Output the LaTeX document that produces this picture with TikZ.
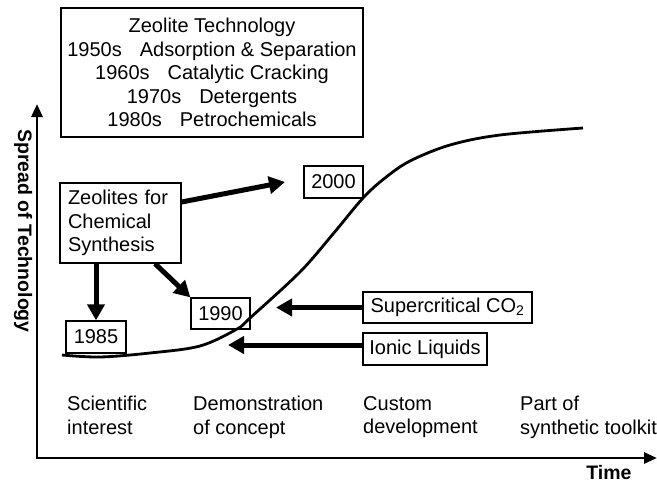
\documentclass[tikz,border=0pt]{standalone}
\usepackage{fontspec}
\setmainfont{Liberation Sans}
\usetikzlibrary{arrows.meta}
\begin{document}
\begin{tikzpicture}[x=1pt,y=-1pt,
  every node/.style={font=\fontsize{20}{23.5}\selectfont},
  box/.style={draw,line width=1.3pt,inner sep=0pt,align=center},
  bigarrow/.style={line width=5pt,-{Triangle[width=17pt,length=16pt]}},
  axisline/.style={line width=2.8pt,{Triangle[width=11pt,length=13pt]}-{Triangle[width=11pt,length=13pt]}},
  stagelabel/.style={anchor=north west,inner sep=0pt,align=left},
  boldlabel/.style={font=\fontsize{19.5}{23.5}\selectfont\bfseries,inner sep=0pt},
  curve/.style={line width=2.8pt}]
\useasboundingbox (0,0) rectangle (657,485);

% axes
\coordinate (ytip) at (37,104);
\coordinate (O) at (37,458);
\coordinate (xtip) at (657,458);
\draw[axisline,line join=miter] (ytip) -- (O) -- (xtip);
\node[boldlabel,rotate=-90] (spread) at (23,231) {Spread of Technology};
\node[boldlabel] (time) at (609,473) {Time};

% S-curve
\draw[curve] plot[smooth,tension=0.55] coordinates {(62,355) (100,357) (150,353) (200,346) (237,329) (250,318) (300,272) (333,234) (363,198) (385,178) (410,161) (450,145) (500,135) (583,128)};

% boxes
\node[box,minimum width=302pt,minimum height=129pt] (zt) at (212,72.5)
  {Zeolite Technology\\1950s\hspace{0.9em}Adsorption \& Separation\\1960s\hspace{0.9em}Catalytic Cracking\\1970s\hspace{0.9em}Detergents\\1980s\hspace{0.9em}Petrochemicals};
\node[box,text width=105pt,align=left,inner xsep=8pt,minimum height=80pt] (zeo) at (120.5,223) {Zeolites for\\Chemical\\Synthesis};
\node[box,minimum width=59pt,minimum height=32pt] (y00) at (333.5,182) {2000};
\node[box,minimum width=60pt,minimum height=32pt] (y85) at (96,337) {1985};
\node[box,minimum width=59pt,minimum height=31pt] (y90) at (220.5,313.5) {1990};
\node[box,minimum width=169pt,minimum height=31pt] (sc) at (447.5,307.5) {Supercritical CO\textsubscript{2}};
\node[box,minimum width=124pt,minimum height=32pt] (il) at (425,349) {Ionic Liquids};

% arrows
\coordinate (t00) at (285,182);
\coordinate (tsc) at (276,307.5);
\coordinate (til) at (228,345);
\draw[bigarrow] ([yshift=21pt]zeo.east) -- (t00);
\draw[bigarrow] (zeo.south -| y85.north) -- (y85.north);
\draw[bigarrow] ([xshift=34.5pt]zeo.south) -- (y90.north west);
\draw[bigarrow] (sc.west) -- (tsc);
\draw[bigarrow] ([yshift=4pt]il.west) -- (til);

% stage labels
\node[stagelabel] (l1) at (67,396) {Scientific\\interest};
\node[stagelabel] (l2) at (193,396) {Demonstration\\of concept};
\node[stagelabel] (l3) at (363,396) {Custom\\development};
\node[stagelabel] (l4) at (520,396) {Part of\\synthetic toolkit};
\end{tikzpicture}
\end{document}
